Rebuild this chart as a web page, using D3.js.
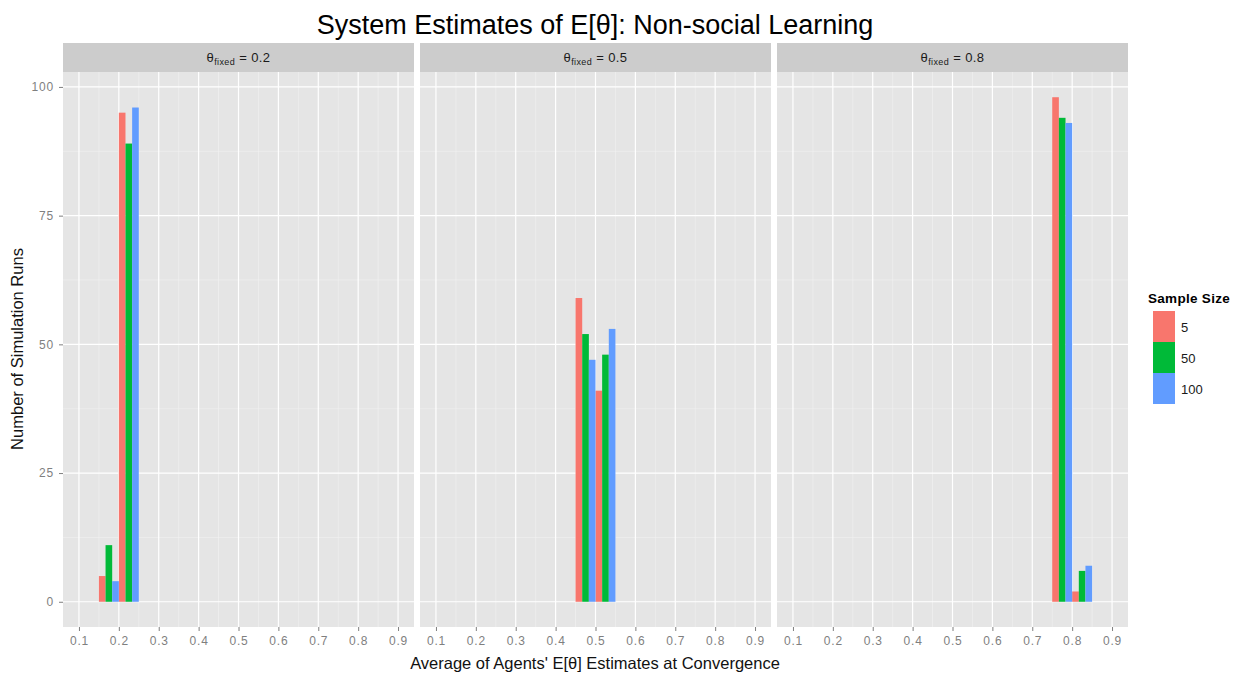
<!DOCTYPE html>
<html>
<head>
<meta charset="utf-8">
<script src="https://cdn.jsdelivr.net/npm/d3@7"></script>
<style>
  html, body { margin: 0; padding: 0; background: #fff; }
  svg { display: block; font-family: "Liberation Sans", Arial, sans-serif; }
</style>
</head>
<body>
<svg id="chart" width="1247" height="677"></svg>
<script>
// Facet values of theta_fixed, one panel each
const thetaFixed = [0.2, 0.5, 0.8];
// Legend categories (sample size)
const sampleSizes = ["5", "50", "100"];
const sampleColors = ["#F8766D", "#00BA38", "#619CFF"];
// Histogram bin centres (binwidth 0.05) used in each panel
const binCenters = [[0.175, 0.225], [0.475, 0.525], [0.775, 0.825]];
const binWidth = 0.05;
// Counts per panel, per bin, for each sample size
const runs5   = [[5, 95], [59, 41], [98, 2]];
const runs50  = [[11, 89], [52, 48], [94, 6]];
const runs100 = [[4, 96], [47, 53], [93, 7]];
const seriesRuns = [runs5, runs50, runs100];
// Axis ticks
const xTicks = [0.1, 0.2, 0.3, 0.4, 0.5, 0.6, 0.7, 0.8, 0.9];
const xMinor = [0.15, 0.25, 0.35, 0.45, 0.55, 0.65, 0.75, 0.85];
const yTicks = [0, 25, 50, 75, 100];
const yMinor = [12.5, 37.5, 62.5, 87.5];

const svg = d3.select("#chart");

const panelLefts = [63, 420, 777];
const panelW = 351;
const stripTop = 43, panelTop = 72, panelBottom = 627;

const y = d3.scaleLinear().domain([-4.9, 102.9]).range([panelBottom, panelTop]);

// Title
svg.append("text")
  .attr("x", 595).attr("y", 34)
  .attr("text-anchor", "middle")
  .attr("font-size", 27)
  .attr("fill", "#000")
  .text("System Estimates of E[\u03B8]: Non-social Learning");

thetaFixed.forEach((theta, p) => {
  const x0 = panelLefts[p];
  const x = d3.scaleLinear().domain([0.06, 0.94]).range([x0, x0 + panelW]);
  const g = svg.append("g");

  // strip
  g.append("rect")
    .attr("x", x0).attr("y", stripTop)
    .attr("width", panelW).attr("height", panelTop - stripTop)
    .attr("fill", "#CCCCCC");
  const st = g.append("text")
    .attr("x", x0 + panelW / 2).attr("y", (stripTop + panelTop) / 2 + 4)
    .attr("text-anchor", "middle")
    .attr("font-size", 13)
    .attr("letter-spacing", 0.4)
    .attr("fill", "#1a1a1a");
  st.append("tspan").text("\u03B8");
  st.append("tspan").attr("font-size", 9).attr("dy", 3).text("fixed");
  st.append("tspan").attr("dy", -3).text(" = " + theta);

  // panel background
  g.append("rect")
    .attr("x", x0).attr("y", panelTop)
    .attr("width", panelW).attr("height", panelBottom - panelTop)
    .attr("fill", "#E5E5E5");

  // minor grid
  g.selectAll(".xminor").data(xMinor).join("line")
    .attr("x1", d => x(d)).attr("x2", d => x(d))
    .attr("y1", panelTop).attr("y2", panelBottom)
    .attr("stroke", "#F2F2F2").attr("stroke-width", 0.6);
  g.selectAll(".yminor").data(yMinor).join("line")
    .attr("x1", x0).attr("x2", x0 + panelW)
    .attr("y1", d => y(d)).attr("y2", d => y(d))
    .attr("stroke", "#F2F2F2").attr("stroke-width", 0.6);
  // major grid
  g.selectAll(".xmajor").data(xTicks).join("line")
    .attr("x1", d => x(d)).attr("x2", d => x(d))
    .attr("y1", panelTop).attr("y2", panelBottom)
    .attr("stroke", "#FFFFFF").attr("stroke-width", 1.2);
  g.selectAll(".ymajor").data(yTicks).join("line")
    .attr("x1", x0).attr("x2", x0 + panelW)
    .attr("y1", d => y(d)).attr("y2", d => y(d))
    .attr("stroke", "#FFFFFF").attr("stroke-width", 1.2);

  // dodged histogram bars
  const sub = binWidth / sampleSizes.length;
  seriesRuns.forEach((runs, s) => {
    g.selectAll(".bar" + s).data(binCenters[p].map((c, i) => ({ c, v: runs[p][i] })))
      .join("rect")
      .attr("x", d => x(d.c - binWidth / 2 + s * sub))
      .attr("width", d => x(d.c - binWidth / 2 + (s + 1) * sub) - x(d.c - binWidth / 2 + s * sub))
      .attr("y", d => y(d.v))
      .attr("height", d => y(0) - y(d.v))
      .attr("fill", sampleColors[s]);
  });

  // x axis
  const xAxis = d3.axisBottom(x).tickValues(xTicks).tickSize(4).tickPadding(5)
    .tickFormat(d3.format(".1f"));
  const ax = g.append("g").attr("transform", `translate(0,${panelBottom})`).call(xAxis);
  ax.select(".domain").remove();
  ax.selectAll(".tick line").attr("stroke", "#7F7F7F");
  ax.selectAll(".tick text").attr("fill", "#7F7F7F").attr("font-size", 12)
    .attr("letter-spacing", 0.8)
    .attr("font-family", "Liberation Sans, Arial, sans-serif");
});

// y axis (left panel only)
const yAxis = d3.axisLeft(y).tickValues(yTicks).tickSize(4).tickPadding(5);
const ay = svg.append("g").attr("transform", `translate(${panelLefts[0]},0)`).call(yAxis);
ay.select(".domain").remove();
ay.selectAll(".tick line").attr("stroke", "#7F7F7F");
ay.selectAll(".tick text").attr("fill", "#7F7F7F").attr("font-size", 12)
  .attr("letter-spacing", 0.8)
  .attr("font-family", "Liberation Sans, Arial, sans-serif");

// axis titles
svg.append("text")
  .attr("x", 595).attr("y", 669)
  .attr("text-anchor", "middle")
  .attr("font-size", 16.5)
  .attr("fill", "#111")
  .text("Average of Agents' E[\u03B8] Estimates at Convergence");
svg.append("text")
  .attr("transform", "translate(23,349) rotate(-90)")
  .attr("text-anchor", "middle")
  .attr("font-size", 16.5)
  .attr("fill", "#111")
  .text("Number of Simulation Runs");

// legend
const lg = svg.append("g");
lg.append("text")
  .attr("x", 1148).attr("y", 303)
  .attr("font-size", 13.5).attr("font-weight", "bold")
  .attr("letter-spacing", 0.3)
  .text("Sample Size");
const keyH = 31;
lg.selectAll(".key").data(sampleSizes).join("rect")
  .attr("x", 1153).attr("y", (d, i) => 311 + i * keyH)
  .attr("width", 22).attr("height", keyH)
  .attr("fill", (d, i) => sampleColors[i]);
lg.selectAll(".klab").data(sampleSizes).join("text")
  .attr("x", 1181).attr("y", (d, i) => 311 + i * keyH + keyH / 2 + 5)
  .attr("font-size", 13).attr("fill", "#1a1a1a")
  .text(d => d);
</script>
</body>
</html>
